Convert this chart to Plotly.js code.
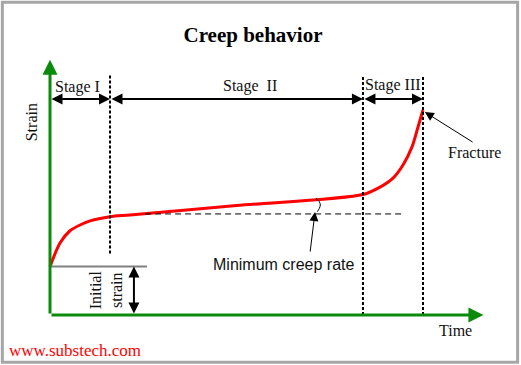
<!DOCTYPE html>
<html>
<head>
<meta charset="utf-8">
<script src="https://cdn.plot.ly/plotly-3.0.1.min.js"></script>
<style>html,body{margin:0;padding:0;background:#fff;}#chart{width:521px;height:365px;}</style>
</head>
<body>
<div id="chart"></div>
<script>
// Creep curve (time in % of time to fracture, strain in % of fracture strain)
const time   = [0, 2.68, 5.36, 8.04, 10.72, 16.09, 21.45, 50, 83.9, 88.47, 91.96, 94.64, 97.05, 98.66, 100];
const strain = [23.6, 35.1, 41.1, 43.9, 45.9, 47.95, 48.8, 53.4, 58.8, 62.4, 66.8, 73.2, 82.0, 91.7, 100];
const stageBounds = [0, 16.09, 83.9, 100];
const stageLabels = ['Stage I', 'Stage  II', 'Stage III'];
const initialStrain = 23.6;
const minRateLevel = 49.3;
const minRateRange = [25.5, 94.6];
const arcT = [71.3, 72.2, 72.47, 72.2, 71.66];
const arcS = [56.9, 55.3, 53.66, 52.0, 50.4];

const serif = 'Liberation Serif, Times New Roman, serif';
const sans = 'Liberation Sans, Arial, sans-serif';
const green = '#0b8a0b';

const traces = [
  {x: time, y: strain, mode: 'lines', line: {color: '#ff0000', width: 3, shape: 'spline', smoothing: 0.8}, hoverinfo: 'skip'},
  {x: arcT, y: arcS, mode: 'lines', line: {color: '#000', width: 1, shape: 'spline'}, hoverinfo: 'skip'}
];

const shapes = [
  // frame
  {type: 'rect', xref: 'paper', yref: 'paper', x0: 0.0045, x1: 0.9935, y0: 0.0075, y1: 0.994, line: {color: '#a6a6a6', width: 3}},
  // stage boundaries
  {type: 'line', x0: stageBounds[1], x1: stageBounds[1], y0: 30, y1: 117, line: {color: '#000', width: 2, dash: '3px,2px'}},
  {type: 'line', x0: stageBounds[2], x1: stageBounds[2], y0: 0, y1: 117, line: {color: '#000', width: 2, dash: '3px,2px'}},
  {type: 'line', x0: stageBounds[3], x1: stageBounds[3], y0: 0, y1: 117, line: {color: '#000', width: 2, dash: '3px,2px'}},
  // minimum creep rate reference line
  {type: 'line', x0: minRateRange[0], x1: minRateRange[1], y0: minRateLevel, y1: minRateLevel, line: {color: '#000', width: 1, dash: '6px,4px'}},
  // initial strain level
  {type: 'line', x0: 0, x1: 26, y0: initialStrain, y1: initialStrain, line: {color: '#808080', width: 2}}
];

function arrow(x, y, ax, ay, opts) {
  return Object.assign({x: x, y: y, ax: ax, ay: ay, xref: 'x', yref: 'y', axref: 'x', ayref: 'y',
    text: '', showarrow: true, arrowhead: 2, arrowsize: 1, arrowwidth: 2, arrowcolor: '#000', standoff: 0, startstandoff: 0}, opts || {});
}
function label(x, y, text, opts) {
  return Object.assign({x: x, y: y, xref: 'x', yref: 'y', text: text, showarrow: false,
    font: {family: serif, size: 16, color: '#111'}, xanchor: 'center', yanchor: 'middle'}, opts || {});
}

const stageY = 105.4;
const annotations = [
  // axes
  arrow(0, 124.5, 0, 0, {arrowcolor: green, arrowwidth: 3, arrowsize: 1}),
  arrow(116.2, 0, 0, 0, {arrowcolor: green, arrowwidth: 3, arrowsize: 1}),
  // stage arrows
  arrow(stageBounds[1], stageY, stageBounds[0], stageY, {arrowside: 'end+start', arrowsize: 1.1}),
  arrow(stageBounds[2], stageY, stageBounds[1], stageY, {arrowside: 'end+start', arrowsize: 1.1}),
  arrow(stageBounds[3], stageY, stageBounds[2], stageY, {arrowside: 'end+start', arrowsize: 1.1}),
  // initial strain arrow
  arrow(22.5, initialStrain, 22.5, 0, {arrowside: 'end+start', arrowsize: 1.1}),
  // minimum creep rate pointer
  arrow(71.05, 50.2, 69.7, 30.2, {arrowwidth: 1, arrowsize: 1.8}),
  // fracture pointer
  arrow(100.5, 99, 113.7, 83.9, {arrowwidth: 1, arrowsize: 1.8}),
  // texts
  label(7.5, 111, stageLabels[0]),
  label(53.6, 111.8, stageLabels[1]),
  label(92, 112.2, stageLabels[2]),
  label(113.7, 79.5, 'Fracture'),
  label(62.5, 24.4, 'Minimum creep rate', {font: {family: sans, size: 16, color: '#111'}}),
  label(-5.1, 94, 'Strain', {textangle: -90}),
  label(108.6, -7.8, 'Time'),
  label(15.1, 12.2, 'Initial<br>strain', {textangle: -90, font: {family: serif, size: 16, color: '#111'}}),
  {xref: 'paper', yref: 'paper', x: 75 / 521, y: 1 - 350 / 365, text: 'www.substech.com', showarrow: false,
    font: {family: serif, size: 17, color: '#ff0000'}, xanchor: 'center', yanchor: 'middle'}
];

const layout = {
  width: 521, height: 365,
  margin: {l: 0, r: 0, t: 0, b: 0, pad: 0},
  paper_bgcolor: '#fff', plot_bgcolor: '#fff',
  showlegend: false,
  title: {text: '<b>Creep behavior</b>', font: {family: serif, size: 21, color: '#000'},
    x: 253 / 521, xanchor: 'center', xref: 'paper', y: 1 - 35 / 365, yanchor: 'middle', yref: 'container'},
  xaxis: {range: [-13.405, 126.273], visible: false, fixedrange: true},
  yaxis: {range: [-24.39, 153.66], visible: false, fixedrange: true},
  shapes: shapes,
  annotations: annotations
};

Plotly.newPlot('chart', traces, layout, {staticPlot: true, displayModeBar: false});
</script>
</body>
</html>
